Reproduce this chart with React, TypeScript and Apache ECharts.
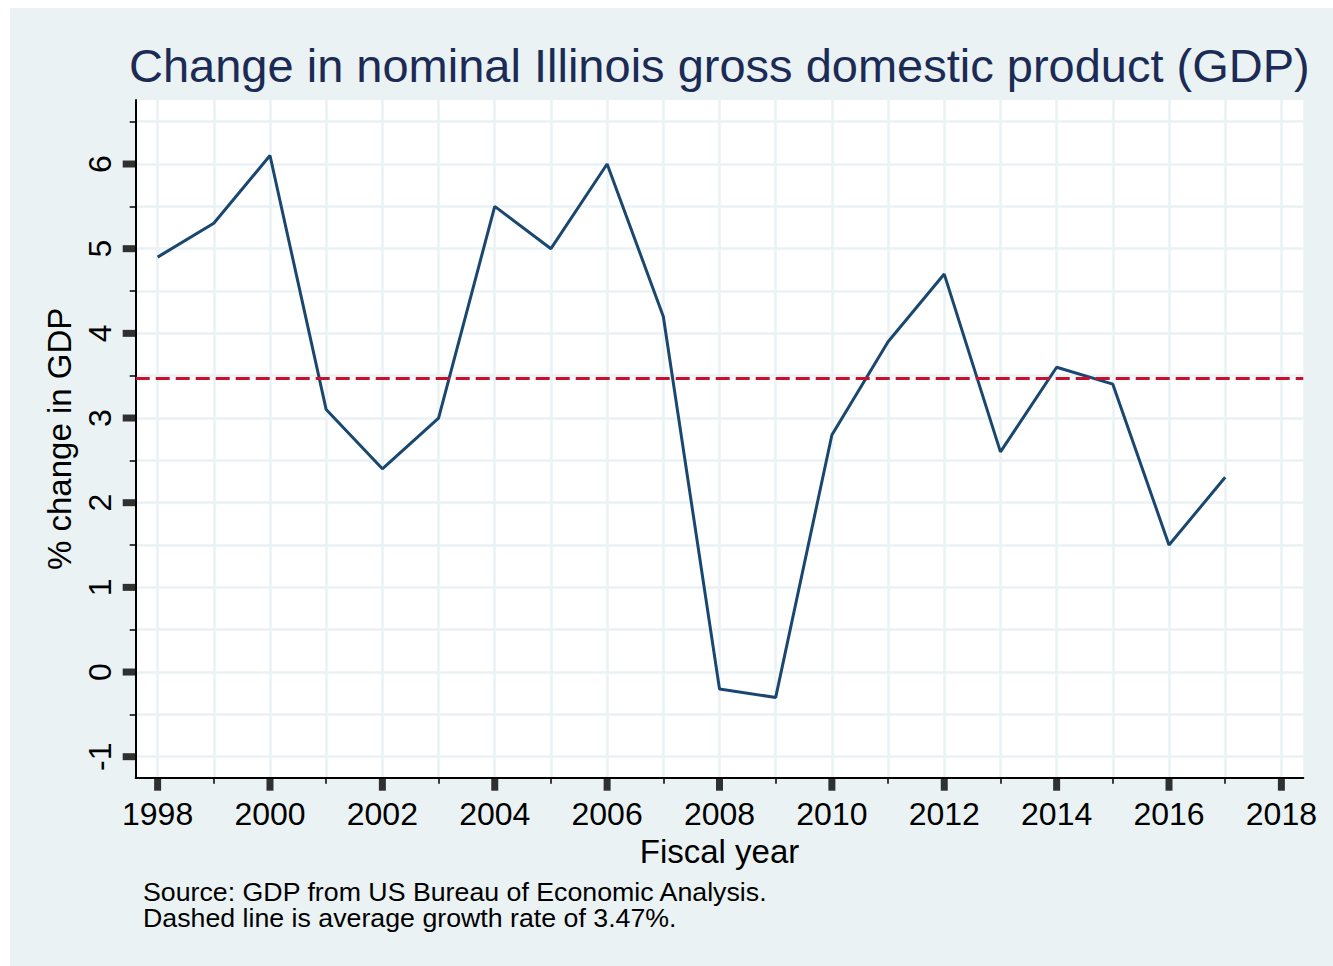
import React, { useEffect, useRef } from "react";
import * as echarts from "echarts";

const YEARS = [1998, 1999, 2000, 2001, 2002, 2003, 2004, 2005, 2006, 2007, 2008, 2009, 2010, 2011, 2012, 2013, 2014, 2015, 2016, 2017];
const GDP_CHANGE = [4.9, 5.3, 6.1, 3.1, 2.4, 3.0, 5.5, 5.0, 6.0, 4.2, -0.2, -0.3, 2.8, 3.9, 4.7, 2.6, 3.6, 3.4, 1.5, 2.3];
const AVERAGE = 3.47;

const X_MAJOR = [1998, 2000, 2002, 2004, 2006, 2008, 2010, 2012, 2014, 2016, 2018];
const X_MINOR = [1999, 2001, 2003, 2005, 2007, 2009, 2011, 2013, 2015, 2017];
const Y_MAJOR = [-1, 0, 1, 2, 3, 4, 5, 6];
const Y_MINOR = [-0.5, 0.5, 1.5, 2.5, 3.5, 4.5, 5.5, 6.5];

const X_MIN = 1997.61;
const X_MAX = 2018.39;
const Y_MIN = -1.248;
const Y_MAX = 6.756;

const TITLE = "Change in nominal Illinois gross domestic product (GDP)";
const NOTE = "Source: GDP from US Bureau of Economic Analysis.\nDashed line is average growth rate of 3.47%.";

const FONT = "'Liberation Sans', Arial, Helvetica, sans-serif";
const BG = "#eaf2f3";
const GRID = "#eaf2f3";

export default function App() {
  const ref = useRef<HTMLDivElement>(null);
  useEffect(() => {
    document.body.style.margin = "0";
    const chart = echarts.init(ref.current!, null, { renderer: "svg" });
    const splitLine = (show: boolean) => ({ show, lineStyle: { color: GRID, width: 2.5 } });
    chart.setOption({
      animation: false,
      backgroundColor: BG,
      title: {
        text: TITLE,
        left: 129,
        top: 42,
        padding: 0,
        textStyle: { fontFamily: FONT, fontSize: 47, fontWeight: "normal", color: "#1c2b55" },
      },
      grid: {
        left: 135.7,
        top: 100,
        right: 29.7,
        bottom: 188.3,
        show: true,
        backgroundColor: "#ffffff",
        borderWidth: 0,
      },
      graphic: [
        { type: "rect", left: 0, top: 0, shape: { width: 10, height: 966 }, style: { fill: "#ffffff" }, silent: true },
        { type: "rect", left: 0, top: 0, shape: { width: 1333, height: 8 }, style: { fill: "#ffffff" }, silent: true },
        {
          type: "text",
          x: 143,
          y: 879,
          scaleX: 1.07,
          style: { text: NOTE, font: `25px ${FONT}`, fill: "#000", lineHeight: 26 },
          silent: true,
        },
      ],
      xAxis: [
        {
          type: "value",
          position: "bottom",
          min: X_MIN,
          max: X_MAX,
          name: "Fiscal year",
          nameLocation: "middle",
          nameGap: 53,
          nameTextStyle: { fontFamily: FONT, fontSize: 33, color: "#000" },
          axisLine: { show: true, onZero: false, lineStyle: { color: "#000", width: 2 } },
          axisTick: { show: false, customValues: X_MAJOR },
          axisLabel: {
            show: true,
            customValues: X_MAJOR,
            formatter: (v: number) => String(Math.round(v)),
            margin: 20,
            fontFamily: FONT,
            fontSize: 32,
            color: "#000",
          },
          splitLine: splitLine(true),
        },
        {
          type: "value",
          position: "bottom",
          min: X_MIN,
          max: X_MAX,
          axisLine: { show: false, onZero: false },
          axisTick: { show: true, length: 6, customValues: X_MINOR, lineStyle: { color: "#000", width: 1.5 } },
          axisLabel: { show: false },
          splitLine: splitLine(true),
        },
      ],
      yAxis: [
        {
          type: "value",
          position: "left",
          min: Y_MIN,
          max: Y_MAX,
          name: "% change in GDP",
          nameLocation: "middle",
          nameRotate: 90,
          nameGap: 46,
          nameTextStyle: { fontFamily: FONT, fontSize: 33, color: "#000" },
          axisLine: { show: true, onZero: false, lineStyle: { color: "#000", width: 2 } },
          axisTick: { show: false, customValues: Y_MAJOR },
          axisLabel: { show: true, customValues: Y_MAJOR, rotate: 90, margin: 20, fontFamily: FONT, fontSize: 32, color: "#000" },
          splitLine: splitLine(true),
        },
        {
          type: "value",
          position: "left",
          min: Y_MIN,
          max: Y_MAX,
          axisLine: { show: false, onZero: false },
          axisTick: { show: true, length: 6, customValues: Y_MINOR, lineStyle: { color: "#000", width: 1.5 } },
          axisLabel: { show: false },
          splitLine: splitLine(true),
        },
      ],
      series: [
        {
          type: "line",
          xAxisIndex: 0,
          yAxisIndex: 0,
          data: YEARS.map((y, i) => [y, GDP_CHANGE[i]]),
          showSymbol: false,
          symbol: "none",
          lineStyle: { color: "#1a476f", width: 3 },
          z: 3,
          markLine: {
            silent: true,
            symbol: "none",
            label: { show: false },
            lineStyle: { color: "#c8102e", width: 3, type: [14, 6] },
            data: [{ yAxis: AVERAGE }],
          },
        },
        {
          type: "scatter",
          xAxisIndex: 0,
          yAxisIndex: 0,
          clip: false,
          silent: true,
          data: X_MAJOR.map((x) => [x, Y_MIN]),
          symbol: "rect",
          symbolSize: [7, 13],
          symbolOffset: [0, 6.5],
          itemStyle: { color: "#000" },
          z: 5,
        },
        {
          type: "scatter",
          xAxisIndex: 0,
          yAxisIndex: 0,
          clip: false,
          silent: true,
          data: Y_MAJOR.map((v) => [X_MIN, v]),
          symbol: "rect",
          symbolSize: [13, 7],
          symbolOffset: [-6.5, 0],
          itemStyle: { color: "#000" },
          z: 5,
        },
      ],
    });
    return () => chart.dispose();
  }, []);
  return <div ref={ref} style={{ width: 1333, height: 966 }} />;
}
